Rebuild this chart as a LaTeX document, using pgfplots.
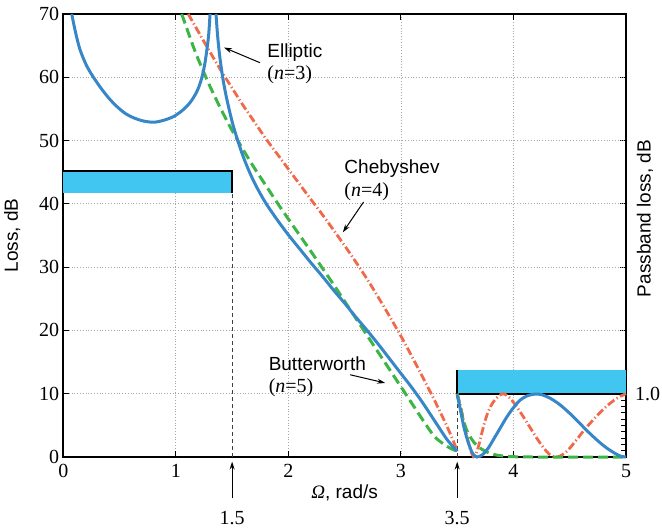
\documentclass[border=0pt]{standalone}
\usepackage{fontspec}
\setmainfont{Liberation Serif}
\setsansfont{Liberation Sans}
\usepackage{pgfplots}
\pgfplotsset{compat=1.18}
\usetikzlibrary{arrows.meta}
\definecolor{cblue}{RGB}{55,135,200}
\definecolor{cgreen}{RGB}{60,180,70}
\definecolor{cred}{RGB}{240,105,75}
\definecolor{ccyan}{RGB}{64,198,240}
\begin{document}
\begin{tikzpicture}
\useasboundingbox (-31.65pt,-35pt) rectangle (299.35pt,228.5pt);
\pgfplotsset{
  every axis/.append style={
    scale only axis, width=281.35pt, height=221.5pt,
    at={(0,0)}, anchor=south west,
    xmin=0, xmax=5, ymin=0, ymax=70,
    axis line style={line width=0.8pt, black},
    tick align=inside,
    major tick length=3pt, minor tick length=2.5pt,
    tick style={black, line width=0.5pt},
    /pgf/number format/assume math mode=true,
    tick label style={font=\rmfamily\fontsize{10}{12}\selectfont},
  }
}
% right axis
\begin{axis}[
  xtick=\empty,
  ytick pos=right,
  ytick={10,20,30,40,50,60},
  yticklabels={1.0,,,,,},
  minor ytick={1,2,3,4,5,6,7,8,9},
  yticklabel style={xshift=1pt},
]
\end{axis}
% main axis
\begin{axis}[
  clip=false,
  xtick={0,1,2,3,4,5},
  xticklabels={0,1,2,3,4,5},
  ytick={0,10,20,30,40,50,60,70},
  yticklabels={0,10,20,30,40,50,60,70},
  ytick pos=left,
  xtick pos=both,
  grid=major,
  major grid style={densely dotted, gray!70, line width=0.4pt},
  yticklabel style={xshift=1.5pt},
]
% stopband / passband masks
\fill[ccyan] (axis cs:0,41.7) rectangle (axis cs:1.5,45.2);
\draw[black, line width=0.8pt] (axis cs:0,45.2) -- (axis cs:1.5,45.2) -- (axis cs:1.5,41.7);
\fill[ccyan] (axis cs:3.5,10) rectangle (axis cs:5,13.7);
\draw[black, line width=0.8pt] (axis cs:3.5,13.7) -- (axis cs:3.5,10) -- (axis cs:5,10);
\draw[black!75, line width=0.6pt, dash pattern=on 2pt off 1.5pt] (axis cs:1.5,0) -- (axis cs:1.5,41.7);
\draw[black!75, line width=0.6pt, dash pattern=on 2pt off 1.5pt] (axis cs:3.5,0) -- (axis cs:3.5,10);

% Chebyshev n=4 (stopband, dB)
\addplot[cred, line width=1.4pt, dash pattern=on 4pt off 1.4pt on 0.6pt off 1.4pt, smooth] coordinates {
(1.11,70) (1.2,67.2) (1.3,64.1) (1.4,61.1) (1.5,58.3) (1.6,55.5) (1.7,52.9) (1.8,50.3)
(1.9,47.9) (2.0,45.5) (2.1,43.1) (2.2,40.7) (2.3,38.35) (2.4,35.9) (2.5,33.4) (2.6,30.8)
(2.7,28.1) (2.8,25.2) (2.9,22.2) (3.0,19.1) (3.1,15.8) (3.2,12.4) (3.3,8.9) (3.4,5.2)
(3.45,3.2) (3.5,1.0)};
% Chebyshev passband (x10 scale)
\addplot[cred, line width=1.4pt, dash pattern=on 4pt off 1.4pt on 0.6pt off 1.4pt, smooth] coordinates {
(3.5,10) (3.53,8.0) (3.56,5.5) (3.59,3.0) (3.62,1.0) (3.645,0.05) (3.67,0.6) (3.70,2.4)
(3.736,5.0) (3.77,6.9) (3.81,8.4) (3.86,9.5) (3.91,10) (3.97,9.3) (4.03,7.9) (4.09,6.3)
(4.15,4.6) (4.21,2.9) (4.27,1.4) (4.32,0.4) (4.37,0.0) (4.42,0.2) (4.48,1.0) (4.56,2.7)
(4.63,4.3) (4.71,5.9) (4.79,7.4) (4.86,8.5) (4.93,9.4) (5.0,10)};

% Butterworth n=5
\addplot[cgreen, line width=1.5pt, dash pattern=on 5pt off 2.5pt, smooth] coordinates {
(1.052,70) (1.1,67.6) (1.15,65.1) (1.2,62.8) (1.3,58.7) (1.4,55.0) (1.5,51.6) (1.6,48.5)
(1.7,45.6) (1.8,42.9) (1.9,40.2) (2.0,37.6) (2.1,35.05) (2.2,32.5) (2.3,29.9) (2.4,27.3)
(2.5,24.6) (2.6,21.9) (2.7,19.2) (2.8,16.5) (2.9,13.8) (3.0,11.1) (3.1,8.4) (3.2,5.7)
(3.3,3.2) (3.4,1.8) (3.45,1.3) (3.5,0.9)};
\addplot[cgreen, line width=1.5pt, dash pattern=on 5pt off 2.5pt, smooth] coordinates {
(3.5,10) (3.52,8.5) (3.54,6.9) (3.56,5.5) (3.586,4.2) (3.615,3.2) (3.65,2.3) (3.69,1.6)
(3.74,1.0) (3.79,0.6) (3.85,0.3) (3.91,0.15) (4.0,0.05) (4.2,0) (5,0)};

% Elliptic n=3
\addplot[cblue, line width=1.5pt, smooth] coordinates {
(0.075,70) (0.11,67.0) (0.148,64.4) (0.20,62.1) (0.25,60.5) (0.326,58.5) (0.40,56.8)
(0.475,55.4) (0.55,54.3) (0.625,53.6) (0.71,53.1) (0.803,52.9) (0.89,53.2) (0.980,53.8)
(1.06,54.8) (1.126,56.0) (1.18,57.5) (1.215,59.0) (1.24,60.6) (1.26,62.4) (1.28,64.9)
(1.293,67.0) (1.304,70)};
\addplot[cblue, line width=1.5pt, smooth] coordinates {
(1.357,70) (1.37,66.8) (1.39,63.3) (1.42,59.6) (1.45,56.8) (1.50,53.0) (1.55,50.0)
(1.60,47.4) (1.66,44.8) (1.72,42.6) (1.80,40.1) (1.90,37.5) (2.0,35.1) (2.1,32.9)
(2.2,30.7) (2.3,28.6) (2.4,26.4) (2.5,24.3) (2.6,22.1) (2.7,20.0) (2.8,17.8) (2.9,15.5)
(3.0,13.2) (3.1,10.9) (3.2,8.4) (3.3,5.7) (3.4,3.0) (3.45,1.9) (3.5,0.9)};
\addplot[cblue, line width=1.5pt, smooth] coordinates {
(3.5,9.8) (3.52,8.2) (3.54,6.4) (3.56,4.7) (3.586,3.0) (3.61,1.7) (3.63,0.8) (3.655,0.2)
(3.675,0.0) (3.70,0.1) (3.733,0.5) (3.78,1.5) (3.82,2.7) (3.88,4.5) (3.94,6.3) (4.00,7.8)
(4.06,9.0) (4.12,9.65) (4.19,9.95) (4.25,9.85) (4.325,9.3) (4.41,8.3) (4.50,6.9) (4.59,5.3)
(4.68,3.7) (4.76,2.4) (4.83,1.4) (4.90,0.6) (4.95,0.15) (5.0,0.0)};

% annotations
\node[anchor=base west, inner sep=0, font=\sffamily\fontsize{9.5}{11}\selectfont] at (axis cs:1.81,63.1) {Elliptic};
\node[anchor=base west, inner sep=0, font=\rmfamily\fontsize{10}{12}\selectfont] at (axis cs:1.81,59.6) {(\textit{n}=3)};
\draw[-{Stealth[length=4pt,width=2.5pt]}, line width=0.5pt] (axis cs:1.748,62.3) -- (axis cs:1.428,64.7);

\node[anchor=base west, inner sep=0, font=\sffamily\fontsize{9.5}{11}\selectfont] at (axis cs:2.495,44.8) {Chebyshev};
\node[anchor=base west, inner sep=0, font=\rmfamily\fontsize{10}{12}\selectfont] at (axis cs:2.495,41.1) {(\textit{n}=4)};
\draw[-{Stealth[length=4pt,width=2.5pt]}, line width=0.5pt] (axis cs:2.668,40.3) -- (axis cs:2.484,35.5);

\node[anchor=base west, inner sep=0, font=\sffamily\fontsize{9.5}{11}\selectfont] at (axis cs:1.822,13.6) {Butterworth};
\node[anchor=base west, inner sep=0, font=\rmfamily\fontsize{10}{12}\selectfont] at (axis cs:1.822,10.2) {(\textit{n}=5)};
\draw[-{Stealth[length=4pt,width=2.5pt]}, line width=0.5pt] (axis cs:2.548,13.0) -- (axis cs:2.86,11.7);

% edge frequency markers
\draw[-{Stealth[length=4pt,width=2.5pt]}, line width=0.5pt] ([yshift=-20.65pt]axis cs:1.5,0) -- ([yshift=-2.3pt]axis cs:1.5,0);
\draw[-{Stealth[length=4pt,width=2.5pt]}, line width=0.5pt] ([yshift=-20.65pt]axis cs:3.5,0) -- ([yshift=-2.3pt]axis cs:3.5,0);
\node[font=\rmfamily\fontsize{10}{12}\selectfont] at ([yshift=-30.65pt]axis cs:1.5,0) {1.5};
\node[font=\rmfamily\fontsize{10}{12}\selectfont] at ([yshift=-30.65pt]axis cs:3.5,0) {3.5};

% axis labels
\node[font=\fontsize{9.5}{11}\selectfont] at ([yshift=-18.15pt]rel axis cs:0.5,0) {\rmfamily\textit{Ω}\sffamily, rad/s};
\node[rotate=90, font=\sffamily\fontsize{9.5}{11}\selectfont] at ([xshift=-25.5pt]rel axis cs:0,0.5) {Loss, dB};
\node[rotate=90, font=\sffamily\fontsize{9.5}{11}\selectfont] at ([xshift=9.5pt]rel axis cs:1,0.5385) {Passband loss, dB};
\end{axis}
\end{tikzpicture}
\end{document}
